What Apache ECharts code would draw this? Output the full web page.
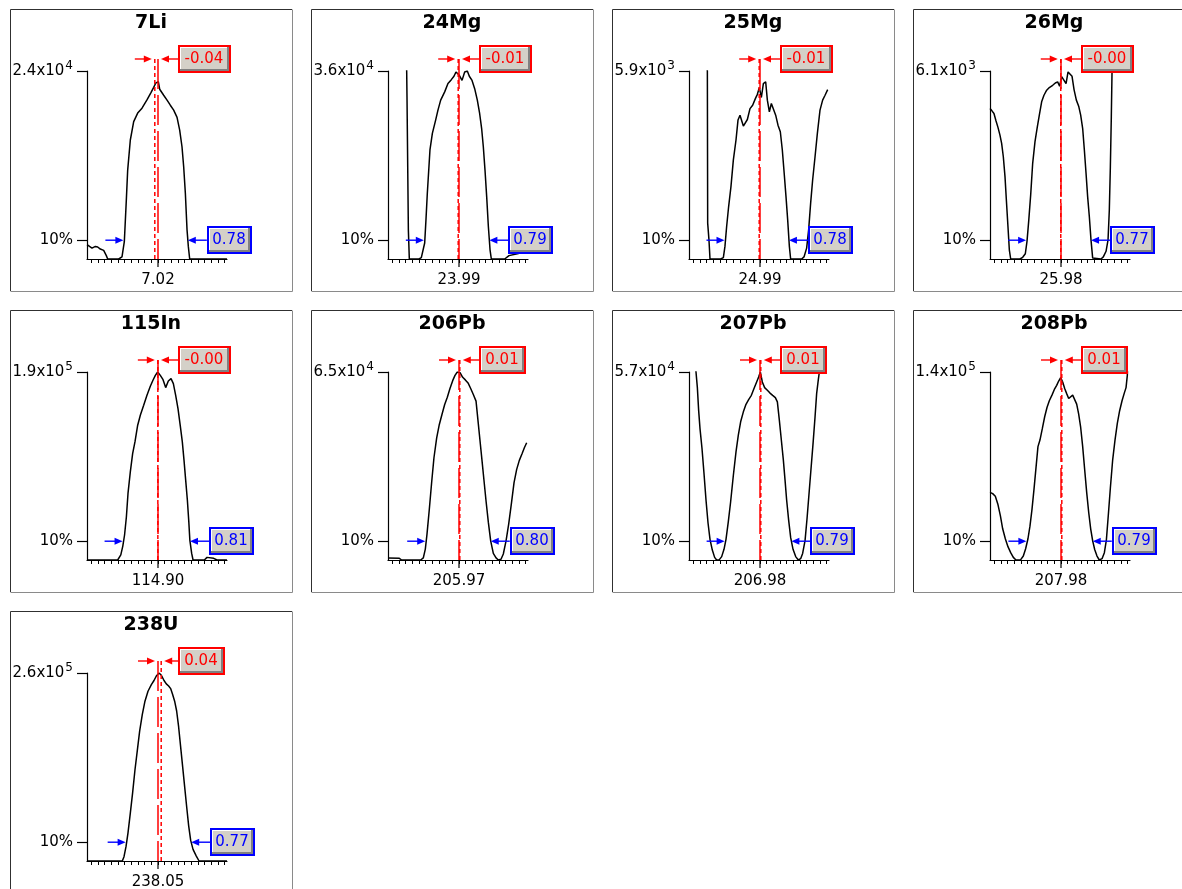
<!DOCTYPE html>
<html><head><meta charset="utf-8">
<script src="https://cdn.jsdelivr.net/npm/echarts@6/dist/echarts.min.js"></script>
<style>html,body{margin:0;padding:0;background:#fff}#c{width:1182px;height:889px}</style>
</head><body><div id="c"></div>
<script>
// ---------- data ----------
const isotopes = ['7Li','24Mg','25Mg','26Mg','115In','206Pb','207Pb','208Pb','238U'];
const masses = [7.02, 23.99, 24.99, 25.98, 114.90, 205.97, 206.98, 207.98, 238.05];
const maxCounts = [2.4e4, 3.6e4, 5.9e3, 6.1e3, 1.9e5, 6.5e4, 5.7e4, 1.4e5, 2.6e5];
const peakShifts = [-0.04, -0.01, -0.01, -0.003, -0.002, 0.01, 0.01, 0.01, 0.04];
const peakWidths = [0.78, 0.79, 0.78, 0.77, 0.81, 0.80, 0.79, 0.79, 0.77];
const yTickValues = [10, 100];
const widthLevel = 10;

// profiles: [offset from nominal mass (amu), intensity % of axis maximum]
const profile7Li = [[-0.887,7.6],[-0.825,5.8],[-0.783,6.7],[-0.754,6.4],[-0.721,5.3],[-0.679,4.6],[-0.646,1.8],[-0.629,0],[-0.492,0],[-0.45,1.1],[-0.421,9.2],[-0.396,31.3],[-0.379,47.3],[-0.346,63.3],[-0.304,73.1],[-0.254,77.6],[-0.2,80.2],[-0.138,84.6],[-0.088,88.5],[-0.054,91.3],[-0.029,93.5],[-0.013,92.6],[0.004,94.3],[0.021,90.3],[0.046,91.3],[0.071,87.1],[0.113,84.5],[0.154,81.8],[0.196,79.2],[0.238,75.3],[0.271,68.6],[0.3,59.7],[0.321,49.1],[0.342,35],[0.363,15.5],[0.379,6.7],[0.396,0],[0.862,0]];
const profile24Mg = [[-0.663,110],[-0.654,100],[-0.65,86.2],[-0.638,85.3],[-0.633,15.5],[-0.621,0],[-0.5,0],[-0.471,0.7],[-0.446,1.1],[-0.429,8.5],[-0.413,20.8],[-0.396,35],[-0.363,58],[-0.333,66.8],[-0.292,73.9],[-0.263,79.2],[-0.229,84.5],[-0.179,88.9],[-0.138,93.3],[-0.096,95.4],[-0.063,97.2],[-0.038,99.5],[-0.021,100],[0.004,97.7],[0.038,95],[0.071,99.5],[0.104,100],[0.129,97.2],[0.163,95],[0.196,90.6],[0.229,84.5],[0.258,77.4],[0.283,69.4],[0.304,59.7],[0.325,47.3],[0.346,33.2],[0.367,17.3],[0.388,4.9],[0.404,0],[0.571,0],[0.625,1.8],[0.729,2.8],[0.854,4.1]];
const profile25Mg = [[-0.667,104],[-0.658,100],[-0.654,19.1],[-0.638,10.2],[-0.625,0],[-0.492,0],[-0.458,0.7],[-0.438,6.7],[-0.417,17.3],[-0.392,27.9],[-0.363,38.5],[-0.333,52.7],[-0.3,63.3],[-0.275,73.9],[-0.25,76.5],[-0.229,76.5],[-0.208,70.7],[-0.183,71.7],[-0.158,74.2],[-0.125,80],[-0.092,81.8],[-0.058,85.3],[-0.033,87.6],[-0.008,91.2],[0.017,85.9],[0.042,93.3],[0.071,94.3],[0.092,84.5],[0.117,78.3],[0.142,82.7],[0.167,83.6],[0.196,76.5],[0.225,71.2],[0.254,67.7],[0.279,58],[0.304,44.7],[0.325,33.2],[0.346,20.8],[0.367,6.7],[0.383,0],[0.521,0],[0.55,1.1],[0.583,5.8],[0.608,15.5],[0.633,29.7],[0.658,42],[0.688,54.4],[0.717,66.8],[0.75,79.2],[0.783,84.5],[0.813,87.1],[0.846,90.1]];
const profile26Mg = [[-0.887,80],[-0.863,78.8],[-0.838,77.4],[-0.813,73.5],[-0.788,70],[-0.763,65.9],[-0.742,61.5],[-0.721,54.4],[-0.7,43.8],[-0.683,31.4],[-0.663,17.3],[-0.646,4.9],[-0.629,0],[-0.513,0],[-0.479,0.9],[-0.446,2.8],[-0.425,9.4],[-0.404,20],[-0.379,34.1],[-0.354,50.9],[-0.325,62.4],[-0.296,70.3],[-0.271,76.5],[-0.242,83.6],[-0.213,87.1],[-0.179,89.8],[-0.146,91.2],[-0.104,92.4],[-0.071,93.6],[-0.042,94.2],[-0.017,91.9],[0.008,97],[0.038,95],[0.063,93.3],[0.088,99.5],[0.113,100],[0.138,97.2],[0.163,90.1],[0.192,84.5],[0.221,81.3],[0.246,76.5],[0.271,69.4],[0.292,58],[0.313,45.6],[0.333,33.2],[0.354,22.6],[0.375,10.2],[0.396,0.5],[0.408,0],[0.5,0],[0.529,1.1],[0.563,4.1],[0.588,10.2],[0.604,26.1],[0.617,49.1],[0.629,75.6],[0.638,100],[0.642,110]];
const profile115In = [[-0.887,0],[-0.504,0],[-0.465,2.7],[-0.44,7.4],[-0.418,13.3],[-0.395,23],[-0.375,35.4],[-0.346,46.9],[-0.317,56.6],[-0.288,62.8],[-0.254,71.7],[-0.221,77],[-0.179,82.3],[-0.138,87.6],[-0.096,92.4],[-0.063,95.6],[-0.033,98.2],[-0.004,100],[0.029,98.2],[0.063,95.9],[0.096,91.7],[0.129,95.2],[0.163,96.5],[0.192,93.8],[0.221,87.6],[0.25,80.5],[0.279,71.2],[0.304,62.8],[0.325,53.1],[0.346,42.5],[0.367,31.9],[0.385,20.4],[0.398,10.6],[0.421,3.5],[0.438,0],[0.579,0],[0.613,1.4],[0.696,0.9],[0.738,0],[0.862,0]];
const profile206Pb = [[-0.887,1.1],[-0.746,0.9],[-0.717,0],[-0.479,0],[-0.446,1.1],[-0.421,5.8],[-0.4,13.8],[-0.371,27],[-0.342,41.2],[-0.313,54.4],[-0.279,65],[-0.246,72.1],[-0.213,77.4],[-0.179,82.7],[-0.146,86.6],[-0.113,91.2],[-0.079,95.4],[-0.05,98.2],[-0.021,100],[0.013,99.6],[0.046,97.2],[0.079,95.8],[0.113,94.2],[0.146,91.2],[0.179,88],[0.213,84.5],[0.238,73.9],[0.263,63.3],[0.288,52.7],[0.313,42],[0.338,31.4],[0.367,20],[0.396,10.2],[0.429,3.5],[0.463,1.1],[0.492,0],[0.525,0.4],[0.554,3.2],[0.588,10.2],[0.621,19.1],[0.654,29.7],[0.688,41.2],[0.721,48.2],[0.754,53],[0.788,56.5],[0.817,59.7],[0.846,62.4]];
const profile207Pb = [[-0.808,106],[-0.8,100],[-0.783,91.7],[-0.767,79.6],[-0.75,69.9],[-0.725,59.3],[-0.7,46],[-0.675,31.9],[-0.65,19.8],[-0.625,11],[-0.596,5.3],[-0.567,1.4],[-0.542,0],[-0.508,0.2],[-0.479,1.8],[-0.45,5.7],[-0.425,11],[-0.396,20.4],[-0.367,31],[-0.333,45.1],[-0.3,57.5],[-0.271,66.4],[-0.242,73.5],[-0.208,78.8],[-0.175,82.8],[-0.142,85.3],[-0.108,87.6],[-0.075,91.2],[-0.042,94.7],[-0.017,97.3],[0.004,100],[0.029,94.7],[0.058,91.7],[0.092,90.3],[0.125,88.8],[0.158,87.6],[0.192,86.4],[0.217,84.1],[0.242,74.3],[0.267,63.7],[0.292,53.1],[0.313,42.5],[0.333,31.9],[0.358,21.2],[0.383,12],[0.413,5.7],[0.446,1.8],[0.479,0],[0.508,0.7],[0.533,3.5],[0.563,10.3],[0.588,22.1],[0.613,35.4],[0.638,48.7],[0.663,61.9],[0.688,76.1],[0.708,88.5],[0.729,95.9],[0.742,100],[0.75,106]];
const profile208Pb = [[-0.887,36],[-0.854,35.3],[-0.821,33.9],[-0.788,29.5],[-0.758,23.6],[-0.729,16.6],[-0.696,11.3],[-0.663,7.1],[-0.629,3.9],[-0.596,1.4],[-0.563,0],[-0.504,0.2],[-0.471,2.1],[-0.442,6],[-0.413,11.3],[-0.388,18],[-0.363,26.8],[-0.338,37.4],[-0.313,48.9],[-0.288,60.3],[-0.263,63.8],[-0.233,70],[-0.204,76.2],[-0.175,81.1],[-0.146,84.7],[-0.113,87.7],[-0.083,90.7],[-0.054,92.9],[-0.029,95.2],[-0.004,97],[0.021,94.7],[0.046,91.2],[0.071,88.5],[0.096,85.9],[0.121,86.8],[0.146,87.7],[0.171,87.1],[0.196,82.9],[0.221,77.6],[0.246,70.5],[0.271,60.3],[0.296,48],[0.321,36],[0.346,25.4],[0.371,16.6],[0.396,10.2],[0.421,5.6],[0.45,2.1],[0.479,0],[0.513,0.7],[0.542,3.9],[0.567,10.6],[0.592,24.2],[0.617,38.3],[0.646,53.3],[0.675,63.8],[0.704,72.7],[0.733,79.4],[0.763,84.7],[0.792,88.9],[0.813,91.7],[0.829,98.2],[0.836,106]];
const profile238U = [[-0.887,0],[-0.446,0],[-0.425,2.3],[-0.4,7.6],[-0.375,15],[-0.346,25.5],[-0.317,36.4],[-0.288,48.4],[-0.258,59],[-0.229,69.2],[-0.196,78],[-0.163,85],[-0.125,90.3],[-0.083,93.8],[-0.05,96],[-0.021,98.4],[0.013,100],[0.042,98.8],[0.075,96],[0.104,94.2],[0.133,93.1],[0.158,91.7],[0.183,88.6],[0.208,85],[0.233,79.8],[0.258,71.3],[0.283,60.7],[0.308,50.2],[0.333,39.6],[0.358,29],[0.383,18.8],[0.408,11.1],[0.438,6.2],[0.479,2.6],[0.513,0],[0.862,0]];
const profiles = [profile7Li, profile24Mg, profile25Mg, profile26Mg, profile115In, profile206Pb, profile207Pb, profile208Pb, profile238U];

// ---------- layout ----------
const panelCols = [10, 311, 612, 913];
const panelRows = [9, 310, 611];
const PANEL_W = 282, PANEL_H = 282;
const GRID_DX = 77, GRID_DY = 62, GRID_W = 140, GRID_H = 188;
const AXIS_LEFT = -0.8875, AXIS_RIGHT = 0.8625, TICK_STEP = 1 / 12;
const FONT = '"DejaVu Sans", Verdana, sans-serif';
const RED = '#ff0000', BLUE = '#0000ff';

const mctx = document.createElement('canvas').getContext('2d');
function textW(t, size) { mctx.font = size + 'px "DejaVu Sans"'; return mctx.measureText(t).width; }

function crossings(p) {
  let im = -1;
  p.forEach((d, i) => { if (Math.abs(d[0]) < 0.2 && (im < 0 || d[1] > p[im][1])) im = i; });
  let i = im; while (i > 0 && p[i][1] >= widthLevel) i--;
  const a = p[i], b = p[i + 1];
  const left = a[0] + (widthLevel - a[1]) * (b[0] - a[0]) / (b[1] - a[1]);
  let j = im; while (j < p.length - 1 && p[j][1] >= widthLevel) j++;
  const c = p[j - 1], d = p[j];
  const right = c[0] + (widthLevel - c[1]) * (d[0] - c[0]) / (d[1] - c[1]);
  return [left, right];
}

function arrow(x0, x1, y, color) {
  const d = x1 > x0 ? 1 : -1;
  return [
    {type: 'line', shape: {x1: x0, y1: y, x2: x1 - d * 5, y2: y}, style: {stroke: color, lineWidth: 1.4}},
    {type: 'polygon', shape: {points: [[x1, y], [x1 - d * 8, y - 3.5], [x1 - d * 8, y + 3.5]]}, style: {fill: color}}
  ];
}
function box(x, y, w, h, color, text) {
  x = Math.round(x); y = Math.round(y);
  return [
    {type: 'rect', shape: {x: x, y: y, width: w, height: h}, style: {fill: color}},
    {type: 'rect', shape: {x: x + 2, y: y + 2, width: w - 4, height: h - 4}, style: {fill: '#808080'}},
    {type: 'rect', shape: {x: x + 2, y: y + 2, width: w - 6, height: h - 6}, style: {fill: '#ffffff'}},
    {type: 'rect', shape: {x: x + 3, y: y + 3, width: w - 7, height: h - 7}, style: {fill: '#d4d0c8'}},
    {type: 'text', style: {text: text, x: x + (w - 1) / 2, y: y + h / 2, align: 'center', verticalAlign: 'middle',
      fill: color, fontSize: 15, fontFamily: FONT}}
  ];
}

function makeAnnot(i) {
  return function (params, api) {
    const m = api.value(0), sh = api.value(1), cl = api.value(2), crr = api.value(3);
    const p0 = api.coord([m, 0]);
    const xn = p0[0], yb = p0[1];
    const yt = api.coord([m, 100])[1];
    const ya = yt - 12;
    const xc = api.coord([m + sh, 0])[0];
    const y10 = api.coord([m, widthLevel])[1];
    const xl = api.coord([m + cl, widthLevel])[0];
    const xr = api.coord([m + crr, widthLevel])[0];
    const ch = [];
    ch.push({type: 'line', shape: {x1: xn, y1: yb, x2: xn, y2: yb + 8}, style: {stroke: '#000', lineWidth: 1.2}});
    ch.push({type: 'line', shape: {x1: xn, y1: ya, x2: xn, y2: yb}, style: {stroke: RED, lineWidth: 1.5, lineDash: [30, 6]}});
    ch.push({type: 'line', shape: {x1: xc, y1: ya, x2: xc, y2: yb}, style: {stroke: RED, lineWidth: 1.5, lineDash: [4, 3]}});
    const L = Math.min(xn, xc), R = Math.max(xn, xc);
    const redText = peakShifts[i].toFixed(2);
    const rw = Math.round(textW(redText, 15)) + 14;
    const rbx = xn + 20;
    ch.push(...arrow(L - 20, L - 3, ya, RED));
    ch.push(...arrow(rbx, R + 3, ya, RED));
    ch.push(...box(rbx, ya - 14, rw, 28, RED, redText));
    const blueText = peakWidths[i].toFixed(2);
    const bw = Math.round(textW(blueText, 15)) + 12;
    const bbx = xr + 19;
    ch.push(...arrow(xl - 19, xl - 1, y10, BLUE));
    ch.push(...arrow(bbx, xr, y10, BLUE));
    ch.push(...box(bbx, y10 - 14, bw, 28, BLUE, blueText));
    return {type: 'group', children: ch};
  };
}

const grids = [], xAxes = [], yAxes = [], series = [], titles = [], graphics = [];
isotopes.forEach((name, i) => {
  const ox = panelCols[i % 4], oy = panelRows[Math.floor(i / 4)];
  const m = masses[i];
  graphics.push({type: 'polyline', silent: true, shape: {points: [[ox + 0.5, oy + PANEL_H], [ox + 0.5, oy + 0.5], [ox + PANEL_W, oy + 0.5]]}, style: {stroke: '#303030', lineWidth: 1, fill: null}});
  graphics.push({type: 'polyline', silent: true, shape: {points: [[ox + PANEL_W + 0.5, oy + 0.5], [ox + PANEL_W + 0.5, oy + PANEL_H + 0.5], [ox + 0.5, oy + PANEL_H + 0.5]]}, style: {stroke: '#8a8a8a', lineWidth: 1, fill: null}});
  titles.push({text: name, left: ox + PANEL_W / 2, top: oy + 5, textAlign: 'center', padding: 0,
    textStyle: {fontSize: 19, fontWeight: 'bold', fontFamily: FONT, color: '#000'}});
  grids.push({left: ox + GRID_DX, top: oy + GRID_DY, width: GRID_W, height: GRID_H, containLabel: false, outerBoundsMode: 'none'});
  const ticks = [];
  for (let k = -10; k <= 10; k++) ticks.push(m + k * TICK_STEP);
  const exp = Math.floor(Math.log10(maxCounts[i]));
  const mant = (maxCounts[i] / Math.pow(10, exp)).toFixed(1);
  xAxes.push({gridIndex: i, type: 'value', min: m + AXIS_LEFT, max: m + AXIS_RIGHT,
    axisLine: {show: true, onZero: false, lineStyle: {color: '#000', width: 1.2}},
    axisTick: {show: true, customValues: ticks, length: 4, inside: false, lineStyle: {color: '#000', width: 1}},
    axisLabel: {show: true, customValues: [m], formatter: () => m.toFixed(2), margin: 14, fontSize: 15, fontFamily: FONT, color: '#000'},
    splitLine: {show: false}});
  yAxes.push({gridIndex: i, type: 'value', min: 0, max: 100,
    axisLine: {show: true, lineStyle: {color: '#000', width: 1.2}},
    axisTick: {show: true, customValues: yTickValues, length: 10, lineStyle: {color: '#000', width: 1.2}},
    axisLabel: {show: true, customValues: yTickValues, margin: 14, fontSize: 15, fontFamily: FONT, color: '#000',
      formatter: v => v === 100 ? '{m|' + mant + 'x10}{e|' + exp + '}' : v + '%',
      rich: {m: {fontSize: 15, fontFamily: FONT, color: '#000'}, e: {fontSize: 12, fontFamily: FONT, color: '#000', padding: [0, 0, 11, 1]}}},
    splitLine: {show: false}});
  series.push({type: 'line', xAxisIndex: i, yAxisIndex: i, data: profiles[i].map(p => [m + p[0], p[1]]),
    showSymbol: false, symbol: 'none', clip: true, silent: true, animation: false,
    lineStyle: {color: '#000', width: 1.5}, z: 2});
  const cr = crossings(profiles[i]);
  series.push({type: 'custom', xAxisIndex: i, yAxisIndex: i, data: [[m, peakShifts[i], cr[0], cr[1]]],
    clip: false, silent: true, animation: false, z: 3, renderItem: makeAnnot(i)});
});

const chart = echarts.init(document.getElementById('c'), null, {renderer: 'canvas'});
chart.setOption({
  backgroundColor: '#fff', animation: false,
  title: titles, grid: grids, xAxis: xAxes, yAxis: yAxes, series: series,
  graphic: {elements: graphics}
});
</script></body></html>
